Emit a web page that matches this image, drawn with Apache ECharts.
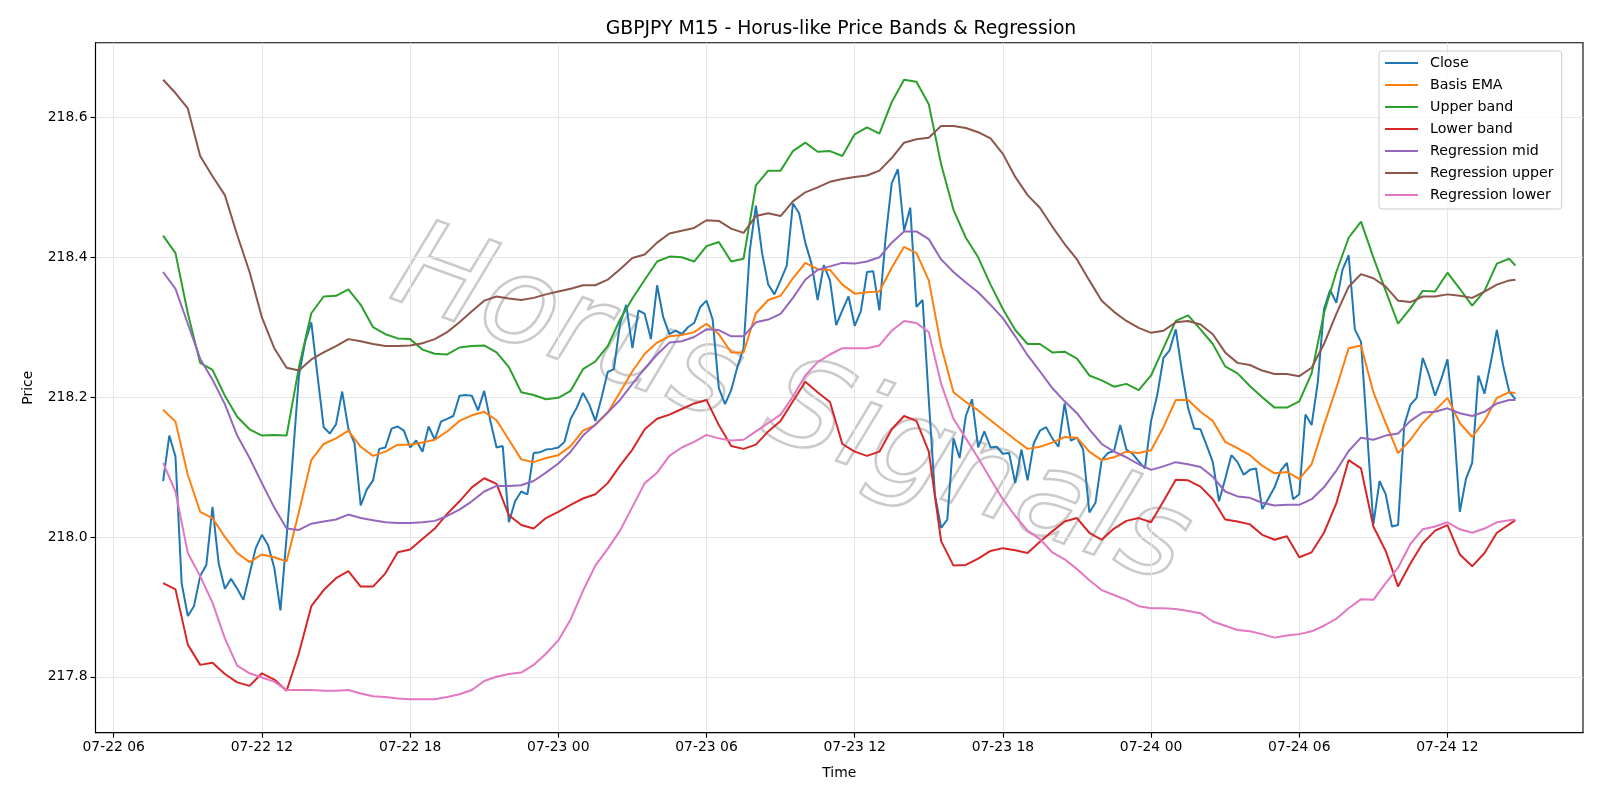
<!DOCTYPE html>
<html>
<head>
<meta charset="utf-8">
<title>GBPJPY M15 - Horus-like Price Bands & Regression</title>
<script src="https://cdn.jsdelivr.net/npm/echarts@6/dist/echarts.min.js"></script>
<style>
  html, body { margin: 0; padding: 0; background: #fff; }
  #chart { width: 1600px; height: 800px; }
</style>
</head>
<body>
<div id="chart"></div>
<script>
// M15 bars, first bar 07-22 08:00, 220 bars
var firstBarHour = 8;      // hours after 07-22 00:00
var barHours = 0.25;
var barCount = 220;

var closeVals = [
  218.080, 218.145, 218.115, 217.934, 217.887, 217.901, 217.944, 217.960, 218.043, 217.962,
  217.926, 217.940, 217.926, 217.910, 217.947, 217.984, 218.003, 217.988, 217.956, 217.895,
  218.000, 218.113, 218.231, 218.279, 218.307, 218.231, 218.157, 218.148, 218.161, 218.208,
  218.155, 218.134, 218.045, 218.068, 218.081, 218.126, 218.128, 218.155, 218.158, 218.152,
  218.128, 218.138, 218.122, 218.158, 218.139, 218.165, 218.169, 218.173, 218.202, 218.203,
  218.202, 218.181, 218.209, 218.166, 218.128, 218.130, 218.021, 218.051, 218.065, 218.061,
  218.120, 218.121, 218.125, 218.126, 218.128, 218.136, 218.169, 218.185, 218.206, 218.190,
  218.166, 218.199, 218.236, 218.240, 218.305, 218.332, 218.270, 218.324, 218.319, 218.283,
  218.360, 218.314, 218.290, 218.295, 218.290, 218.300, 218.306, 218.329, 218.338, 218.311,
  218.213, 218.190, 218.210, 218.243, 218.270, 218.409, 218.474, 218.406, 218.361, 218.347,
  218.367, 218.388, 218.477, 218.463, 218.421, 218.391, 218.339, 218.389, 218.367, 218.303,
  218.324, 218.344, 218.302, 218.323, 218.379, 218.380, 218.324, 218.427, 218.506, 218.526,
  218.438, 218.471, 218.329, 218.339, 218.196, 218.060, 218.013, 218.025, 218.141, 218.113,
  218.173, 218.197, 218.128, 218.151, 218.128, 218.129, 218.119, 218.120, 218.077, 218.125,
  218.081, 218.134, 218.152, 218.157, 218.141, 218.129, 218.191, 218.138, 218.142, 218.125,
  218.035, 218.049, 218.110, 218.120, 218.123, 218.160, 218.125, 218.119, 218.108, 218.098,
  218.166, 218.203, 218.256, 218.267, 218.297, 218.237, 218.184, 218.155, 218.154, 218.131,
  218.107, 218.051, 218.083, 218.117, 218.107, 218.089, 218.096, 218.098, 218.040, 218.055,
  218.071, 218.095, 218.106, 218.054, 218.061, 218.175, 218.160, 218.221, 218.326, 218.353,
  218.335, 218.382, 218.403, 218.297, 218.279, 218.148, 218.018, 218.080, 218.061, 218.015,
  218.017, 218.160, 218.189, 218.199, 218.256, 218.232, 218.202, 218.226, 218.254, 218.166,
  218.036, 218.083, 218.106, 218.231, 218.205, 218.249, 218.296, 218.246, 218.208, 218.197
];

// band / regression values read every second bar (30 min) plus the last bar
var basisEma = [
  218.182, 218.165, 218.089, 218.036, 218.027, 218.000, 217.977, 217.964, 217.975, 217.971,
  217.965, 218.036, 218.110, 218.133,
  218.141, 218.152, 218.129, 218.116, 218.122, 218.132, 218.132, 218.135, 218.139, 218.151,
  218.166, 218.174, 218.179, 218.167,
  218.139, 218.111, 218.107, 218.113, 218.117, 218.130, 218.152, 218.160, 218.178, 218.207,
  218.237, 218.262, 218.278, 218.287,
  218.289, 218.293, 218.305, 218.290, 218.264, 218.264, 218.320, 218.339, 218.345, 218.370,
  218.392, 218.383, 218.382, 218.361, 218.348,
  218.350, 218.351, 218.385, 218.415, 218.406, 218.367, 218.273, 218.207, 218.193, 218.181,
  218.167, 218.153, 218.139, 218.126,
  218.129, 218.135, 218.143, 218.142, 218.122, 218.110, 218.114, 218.122, 218.120, 218.124,
  218.157, 218.196, 218.196, 218.179,
  218.166, 218.136, 218.127, 218.117, 218.102, 218.091, 218.093, 218.083, 218.104, 218.160,
  218.213, 218.270, 218.274, 218.207,
  218.163, 218.120, 218.139, 218.163, 218.181, 218.199, 218.163, 218.143, 218.166, 218.199,
  218.207, 218.206
];
var upperBand = [
  218.431, 218.406, 218.320, 218.249, 218.239, 218.202, 218.172, 218.154, 218.145, 218.146,
  218.145, 218.243, 218.320, 218.344,
  218.345, 218.354, 218.332, 218.300, 218.290, 218.284, 218.283, 218.268, 218.262, 218.261,
  218.271, 218.273, 218.274, 218.264,
  218.243, 218.207, 218.203, 218.197, 218.199, 218.209, 218.240, 218.251, 218.273, 218.311,
  218.341, 218.368, 218.394, 218.401,
  218.400, 218.394, 218.416, 218.422, 218.394, 218.398, 218.503, 218.524, 218.524, 218.552,
  218.564, 218.551, 218.552, 218.545, 218.576,
  218.586, 218.577, 218.622, 218.654, 218.651, 218.619, 218.533, 218.468, 218.428, 218.400,
  218.361, 218.326, 218.296, 218.276,
  218.276, 218.264, 218.265, 218.255, 218.231, 218.224, 218.215, 218.219, 218.210, 218.231,
  218.270, 218.309, 218.317, 218.297,
  218.276, 218.244, 218.234, 218.216, 218.200, 218.185, 218.185, 218.194, 218.234, 218.320,
  218.379, 218.428, 218.451, 218.400,
  218.352, 218.305, 218.327, 218.352, 218.351, 218.378, 218.355, 218.331, 218.352, 218.391,
  218.398, 218.388
];
var lowerBand = [
  217.934, 217.925, 217.846, 217.817, 217.820, 217.804, 217.792, 217.787, 217.805, 217.796,
  217.780, 217.834, 217.901, 217.924,
  217.941, 217.951, 217.929, 217.929, 217.948, 217.978, 217.982, 217.997, 218.012, 218.033,
  218.051, 218.071, 218.084, 218.076,
  218.031, 218.017, 218.012, 218.027, 218.036, 218.046, 218.055, 218.061, 218.077, 218.102,
  218.125, 218.154, 218.169, 218.175,
  218.183, 218.191, 218.196, 218.160, 218.130, 218.126, 218.132, 218.151, 218.166, 218.194,
  218.222, 218.207, 218.193, 218.133, 218.122,
  218.116, 218.122, 218.154, 218.173, 218.166, 218.122, 217.994, 217.959, 217.960, 217.969,
  217.980, 217.984, 217.981, 217.977,
  217.993, 218.008, 218.022, 218.027, 218.006, 217.996, 218.012, 218.023, 218.027, 218.021,
  218.051, 218.082, 218.081, 218.072,
  218.054, 218.025, 218.022, 218.018, 218.003, 217.996, 218.001, 217.971, 217.978, 218.006,
  218.048, 218.110, 218.098, 218.015,
  217.980, 217.929, 217.962, 217.991, 218.009, 218.017, 217.975, 217.958, 217.977, 218.006,
  218.018, 218.024
];
var regMid = [
  218.379, 218.355, 218.305, 218.255, 218.225, 218.190, 218.145, 218.113, 218.077, 218.042,
  218.012, 218.010, 218.019, 218.022,
  218.025, 218.032, 218.027, 218.024, 218.021, 218.020, 218.020, 218.021, 218.023, 218.030,
  218.039, 218.051, 218.065, 218.073,
  218.073, 218.074, 218.080, 218.092, 218.105, 218.122, 218.145, 218.161, 218.178, 218.196,
  218.219, 218.241, 218.261, 218.278,
  218.280, 218.286, 218.297, 218.296, 218.287, 218.287, 218.307, 218.311, 218.319, 218.342,
  218.368, 218.382, 218.387, 218.392, 218.391,
  218.394, 218.400, 218.421, 218.437, 218.437, 218.426, 218.397, 218.379, 218.364, 218.350,
  218.332, 218.313, 218.287, 218.260,
  218.237, 218.213, 218.194, 218.177, 218.154, 218.133, 218.122, 218.114, 218.104, 218.096,
  218.101, 218.107, 218.104, 218.100,
  218.086, 218.065, 218.058, 218.056, 218.049, 218.045, 218.046, 218.046, 218.054, 218.071,
  218.095, 218.123, 218.142, 218.139,
  218.145, 218.148, 218.166, 218.178, 218.179, 218.184, 218.177, 218.173, 218.179, 218.191,
  218.196, 218.196
];
var regUpper = [
  218.654, 218.635, 218.613, 218.545, 218.516, 218.489, 218.432, 218.379, 218.314, 218.270,
  218.242, 218.238, 218.254, 218.264,
  218.273, 218.283, 218.280, 218.276, 218.273, 218.273, 218.274, 218.277, 218.283, 218.293,
  218.307, 218.323, 218.338, 218.344,
  218.341, 218.339, 218.342, 218.347, 218.351, 218.355, 218.360, 218.360, 218.368, 218.383,
  218.399, 218.404, 218.421, 218.434,
  218.438, 218.442, 218.453, 218.452, 218.441, 218.435, 218.459, 218.463, 218.459, 218.480,
  218.493, 218.500, 218.508, 218.512, 218.515,
  218.517, 218.524, 218.542, 218.564, 218.569, 218.571, 218.588, 218.588, 218.585, 218.579,
  218.570, 218.548, 218.515, 218.489,
  218.471, 218.444, 218.419, 218.397, 218.367, 218.338, 218.322, 218.309, 218.299, 218.292,
  218.295, 218.307, 218.309, 218.304,
  218.290, 218.264, 218.249, 218.246, 218.238, 218.233, 218.233, 218.230, 218.242, 218.276,
  218.319, 218.358, 218.376, 218.370,
  218.358, 218.338, 218.336, 218.344, 218.344, 218.347, 218.345, 218.342, 218.351, 218.361,
  218.367, 218.368
];
var regLower = [
  218.106, 218.065, 217.977, 217.944, 217.906, 217.855, 217.816, 217.805, 217.799, 217.793,
  217.781, 217.781, 217.781, 217.780,
  217.780, 217.781, 217.776, 217.772, 217.771, 217.769, 217.768, 217.768, 217.768, 217.771,
  217.775, 217.781, 217.794, 217.800,
  217.804, 217.806, 217.817, 217.833, 217.852, 217.882, 217.923, 217.959, 217.983, 218.009,
  218.043, 218.077, 218.092, 218.116,
  218.128, 218.136, 218.146, 218.141, 218.138, 218.139, 218.151, 218.163, 218.175, 218.201,
  218.231, 218.250, 218.261, 218.270, 218.270,
  218.270, 218.274, 218.295, 218.309, 218.306, 218.293, 218.219, 218.169, 218.141, 218.113,
  218.083, 218.054, 218.030, 218.009,
  217.997, 217.978, 217.968, 217.954, 217.938, 217.924, 217.917, 217.910, 217.901, 217.898,
  217.898, 217.897, 217.894, 217.891,
  217.879, 217.873, 217.867, 217.865, 217.861, 217.856, 217.859, 217.861, 217.865, 217.873,
  217.883, 217.898, 217.911, 217.910,
  217.934, 217.956, 217.990, 218.011, 218.015, 218.021, 218.011, 218.006, 218.012, 218.021,
  218.024, 218.025
];

// tick marks: hours after 07-22 00:00, and price levels
var tickHours = [6, 12, 18, 24, 30, 36, 42, 48, 54, 60];
var priceTicks = [217.8, 218.0, 218.2, 218.4, 218.6];

function barHour(i) { return firstBarHour + i * barHours; }

// sample positions of the band arrays: every 2nd bar, then the last bar
var sampleIdx = [];
for (var k = 0; k < barCount - 1; k += 2) sampleIdx.push(k);
sampleIdx.push(barCount - 1);

function pairs(vals, idx) {
  return vals.map(function (v, j) { return [barHour(idx ? idx[j] : j), v]; });
}

var span = (barCount - 1) * barHours;
var xMin = barHour(0) - span * 0.05;
var xMax = barHour(barCount - 1) + span * 0.05;

function pad(n) { return (n < 10 ? '0' : '') + n; }
function fmtHour(h) {
  var day = 22 + Math.floor(h / 24);
  return '07-' + pad(day) + ' ' + pad(Math.round(h % 24));
}

var font = 'DejaVu Sans';
var colors = ['#1f77b4', '#ff7f0e', '#2ca02c', '#d62728', '#9467bd', '#8c564b', '#e377c2'];

function lineSeries(name, data) {
  return {
    name: name,
    type: 'line',
    data: data,
    symbol: 'none',
    lineStyle: { width: 2 },
    emphasis: { disabled: true }
  };
}

var myChart = echarts.init(document.getElementById('chart'), null, { renderer: 'canvas' });
var option = {
  animation: false,
  color: colors,
  title: {
    text: 'GBPJPY M15 - Horus-like Price Bands & Regression',
    left: 836,
    top: 15,
    textAlign: 'center',
    textStyle: { fontFamily: font, fontSize: 18.8, fontWeight: 'normal', color: '#000' }
  },
  grid: {
    left: 95.5, right: 17, top: 42.7, bottom: 67.3,
    show: true, borderColor: '#000', borderWidth: 1.1, backgroundColor: 'transparent'
  },
  legend: {
    orient: 'vertical',
    left: 1379, top: 51,
    padding: [5, 8, 7, 6],
    itemGap: 8,
    itemWidth: 33, itemHeight: 2,
    icon: 'rect',
    backgroundColor: 'rgba(255,255,255,0.8)',
    borderColor: '#cccccc', borderWidth: 1, borderRadius: 3,
    textStyle: { fontFamily: font, fontSize: 14.2, color: '#000', padding: [0, 0, 0, 7] },
    data: ['Close', 'Basis EMA', 'Upper band', 'Lower band', 'Regression mid', 'Regression upper', 'Regression lower']
  },
  graphic: [{
    type: 'text',
    x: 790, y: 410,
    rotation: -0.35,
    z: 0,
    silent: true,
    style: {
      text: 'Horus Signals',
      font: 'italic 200 122px "DejaVu Sans"',
      fill: 'rgba(255,255,255,0)',
      stroke: 'rgba(150,150,150,0.5)',
      lineWidth: 2.5,
      align: 'center',
      verticalAlign: 'middle'
    }
  }],
  xAxis: {
    type: 'value',
    min: xMin, max: xMax,
    name: 'Time', nameLocation: 'middle', nameGap: 34,
    nameTextStyle: { fontFamily: font, fontSize: 13.9, color: '#000' },
    axisLine: { show: true, onZero: false, lineStyle: { color: '#000', width: 1.1 } },
    axisTick: { show: true, length: 5, customValues: tickHours, lineStyle: { color: '#000', width: 1.1 } },
    axisLabel: {
      customValues: tickHours, margin: 8,
      fontFamily: font, fontSize: 13.9, color: '#000',
      formatter: function (v) { return fmtHour(v); }
    },
    splitLine: { show: true, lineStyle: { color: '#e6e6e6', width: 1 } }
  },
  yAxis: {
    type: 'value',
    min: 217.72, max: 218.707,
    name: 'Price', nameLocation: 'middle', nameGap: 60, nameRotate: 90,
    nameTextStyle: { fontFamily: font, fontSize: 13.9, color: '#000' },
    axisLine: { show: true, lineStyle: { color: '#000', width: 1.1 } },
    axisTick: { show: true, length: 5, customValues: priceTicks, lineStyle: { color: '#000', width: 1.1 } },
    axisLabel: {
      customValues: priceTicks, margin: 8,
      fontFamily: font, fontSize: 13.9, color: '#000',
      formatter: function (v) { return v.toFixed(1); }
    },
    splitLine: { show: true, lineStyle: { color: '#e6e6e6', width: 1 } }
  },
  series: [
    lineSeries('Close', pairs(closeVals)),
    lineSeries('Basis EMA', pairs(basisEma, sampleIdx)),
    lineSeries('Upper band', pairs(upperBand, sampleIdx)),
    lineSeries('Lower band', pairs(lowerBand, sampleIdx)),
    lineSeries('Regression mid', pairs(regMid, sampleIdx)),
    lineSeries('Regression upper', pairs(regUpper, sampleIdx)),
    lineSeries('Regression lower', pairs(regLower, sampleIdx))
  ]
};
myChart.setOption(option);
</script>
</body>
</html>
